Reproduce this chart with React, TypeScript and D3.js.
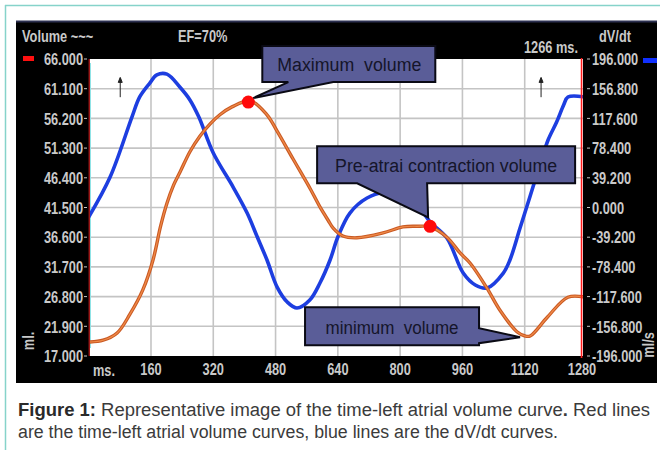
import React from "react";
import * as d3 from "d3";

// dV/dt curve (blue, right axis)
const dvTime = [0, 55, 111, 131, 157, 175, 201, 234, 260, 283, 320, 371, 407, 432, 458, 484, 510, 535, 568, 594, 620, 640, 671, 715, 756, 818, 859, 877, 920, 962, 993, 1023, 1065, 1082, 1108, 1134, 1159, 1180, 1202, 1220, 1231, 1275];
const dvValues = [-12.5, 40.2, 119.4, 146, 164.3, 175, 176, 159, 142, 119.4, 71.9, 27, -7.3, -37.6, -69.3, -105, -124.7, -132.7, -122.1, -99.7, -69.3, -39, -7.3, 12.5, 19.1, 7.2, -7.3, -19.2, -40.3, -86.5, -102.3, -106.3, -86.5, -69.3, -27.1, 15.2, 56.1, 89.1, 112.8, 135.3, 145.8, 145.8];

// volume curve (orange, left axis)
const volTime = [0, 37, 73, 106, 139, 165, 185, 201, 218, 235, 260, 286, 312, 337, 368, 415, 458, 484, 525, 569, 594, 615, 628, 653, 689, 756, 807, 843, 877, 920, 954, 980, 1023, 1056, 1100, 1121, 1134, 1178, 1231, 1275];
const volume = [19.3, 19.6, 20.8, 23.9, 27.9, 32.8, 38.5, 42.2, 45.2, 47.4, 50.7, 53.3, 55.3, 56.8, 58.1, 59.1, 56.8, 54.1, 49.5, 44.6, 41.6, 39.4, 38.1, 36.8, 36.5, 37.3, 38.3, 38.4, 38.3, 36.6, 34, 32.3, 28.2, 24.6, 21, 20.3, 20.3, 23.4, 26.7, 26.7];

const volTicks = [17, 21.9, 26.8, 31.7, 36.6, 41.5, 46.4, 51.3, 56.2, 61.1, 66];
const dvTicks = [-196, -156.8, -117.6, -78.4, -39.2, 0, 39.2, 78.4, 117.6, 156.8, 196];
const timeTicks = [160, 320, 480, 640, 800, 960, 1120, 1280];

const cursorTime = 1266;
const arrowTimes = [81, 1162];

// annotated points: [time, volume]
const callouts = [
  { label: "Maximum  volume", at: [410, 58.9], dot: true,
    pts: [[14, -56], [187, -56], [187, -20], [85, -20], [5, -4], [40, -20], [14, -20]], text: [101, -37], len: 144 },
  { label: "Pre-atrai contraction volume", at: [877, 38.4], dot: true,
    pts: [[-113, -80], [145, -80], [145, -43], [-3, -43], [-2, -9], [-73, -43], [-113, -43]], text: [16, -60], len: 222 },
  { label: "minimum  volume", at: [1108, 20.1], dot: false,
    pts: [[-215, -30], [-41, -30], [-41, -9], [0, 0], [-41, 6], [-41, 8], [-215, 8]], text: [-128, -9], len: 133 },
];

const W = 660;
const H = 450;
const plot = { left: 90, right: 583, top: 59, bottom: 356 };

const labelGray = "#c9c9c9";

// condensed bold label, like the monitor font
const NText = ({ x, y, rot = 0, anchor = "start", children }: any) => (
  <text
    transform={`translate(${x},${y}) rotate(${rot}) scale(0.8,1)`}
    textAnchor={anchor}
    dominantBaseline="middle"
  >
    {children}
  </text>
);

export default function App() {
  const x = d3.scaleLinear().domain([0, 1280]).range([88.7, 587]);
  const yL = d3.scaleLinear().domain([17, 66]).range([plot.bottom, plot.top]);
  const yR = d3.scaleLinear().domain([-196, 196]).range([plot.bottom, plot.top]);

  const blueLine = d3
    .line<number>()
    .x((d, i) => x(dvTime[i]))
    .y((d) => yR(d))
    .curve(d3.curveCatmullRom.alpha(0.5));
  const volLine = d3
    .line<number>()
    .x((d, i) => x(volTime[i]))
    .y((d) => yL(d))
    .curve(d3.curveCatmullRom.alpha(0.5));

  return (
    <svg width={W} height={H} style={{ position: "absolute", left: 0, top: 0, background: "#fff" }}>
      <defs>
        <clipPath id="plotclip">
          <rect x={plot.left} y={plot.top} width={plot.right - plot.left} height={plot.bottom - plot.top} />
        </clipPath>
      </defs>

      {/* teal frame */}
      <line x1={5} x2={660} y1={5.5} y2={5.5} stroke="#86d3ca" strokeWidth={1.5} />
      <line x1={5.5} x2={5.5} y1={5} y2={450} stroke="#86d3ca" strokeWidth={1.5} />

      {/* black monitor panel */}
      <rect x={16} y={21} width={641} height={362} fill="#000" />
      <line x1={16} x2={657} y1={21.5} y2={21.5} stroke="#2c3050" strokeWidth={2} />
      <rect x={plot.left} y={plot.top} width={plot.right - plot.left} height={plot.bottom - plot.top} fill="#fff" />

      {/* grid */}
      <g stroke="#c4c4c4" strokeWidth={1.6}>
        {volTicks.slice(1, -1).map((t) => (
          <line key={t} x1={plot.left} x2={plot.right} y1={yL(t)} y2={yL(t)} />
        ))}
        {timeTicks.slice(0, -1).map((t) => (
          <line key={t} x1={x(t)} x2={x(t)} y1={plot.top} y2={plot.bottom} />
        ))}
      </g>
      <line x1={89.2} x2={89.2} y1={plot.top} y2={plot.bottom} stroke="#e02020" strokeWidth={1} />
      <line x1={90.5} x2={90.5} y1={plot.top + 4} y2={plot.bottom - 8} stroke="#8fe3e6" strokeWidth={1} />

      {/* tick labels */}
      <g fontFamily="'Liberation Sans', Arial, sans-serif" fontWeight="bold" fontSize={16} fill={labelGray}>
        {volTicks.map((t) => (
          <g key={t}>
            <line x1={84} x2={87} y1={yL(t)} y2={yL(t)} stroke={labelGray} strokeWidth={1} />
            <NText x={83} y={yL(t) + 2} anchor="end">{t.toFixed(3)}</NText>
          </g>
        ))}
        {dvTicks.map((t) => (
          <g key={t}>
            <line x1={587} x2={590} y1={yR(t)} y2={yR(t)} stroke={labelGray} strokeWidth={1} />
            <NText x={592} y={yR(t) + 2}>{t.toFixed(3)}</NText>
          </g>
        ))}
        {timeTicks.map((t) => (
          <NText key={t} x={x(t) - (t === 1280 ? 5 : 0)} y={371} anchor="middle">{t}</NText>
        ))}
        <NText x={93} y={372}>ms.</NText>
        <NText x={22} y={38}>Volume ~~~</NText>
        <NText x={178} y={38}>EF=70%</NText>
        <NText x={524} y={49}>1266 ms.</NText>
        <NText x={615} y={38} anchor="middle">dV/dt</NText>
        <NText x={30} y={341} rot={-90} anchor="middle">ml.</NText>
        <NText x={650} y={345} rot={-90} anchor="middle">ml/s</NText>
      </g>
      <rect x={23} y={56} width={11} height={5} fill="#ff1010" />
      <rect x={643} y={58} width={14} height={5} fill="#1030ff" />

      {/* curves */}
      <g clipPath="url(#plotclip)" fill="none">
        <path d={blueLine(dvValues) || ""} stroke="#1d3ee0" strokeWidth={3.6} strokeLinejoin="round" />
        <path d={volLine(volume) || ""} stroke="#c95a24" strokeWidth={3.4} strokeLinejoin="round" />
        <path d={volLine(volume) || ""} stroke="#f08a48" strokeWidth={1.2} strokeLinejoin="round" />
      </g>

      {/* cursor and markers */}
      <line x1={x(cursorTime)} x2={x(cursorTime)} y1={58} y2={358} stroke="#ff1a1a" strokeWidth={1.6} />
      {arrowTimes.map((t) => (
        <g key={t} stroke="#222" strokeWidth={1} fill="#222">
          <line x1={x(t)} x2={x(t)} y1={yL(62.8)} y2={yL(59.7)} />
          <path d={`M${x(t) - 2},${yL(62.8) + 4} L${x(t)},${yL(62.8) - 1} L${x(t) + 2},${yL(62.8) + 4} Z`} />
        </g>
      ))}

      {/* callouts */}
      {callouts.map((c) => {
        const ax = x(c.at[0]);
        const ay = yL(c.at[1]);
        const d = "M" + c.pts.map((p) => `${ax + p[0]},${ay + p[1]}`).join(" L") + " Z";
        return (
          <g key={c.label}>
            {c.dot && <circle cx={ax} cy={ay} r={6.5} fill="#ff0a0a" />}
            <path d={d} fill="#5a5d98" stroke="#0a0a14" strokeWidth={2} strokeLinejoin="miter" />
            <text
              x={ax + c.text[0]}
              y={ay + c.text[1]}
              textAnchor="middle"
              dominantBaseline="central"
              fontFamily="'Liberation Sans', Arial, sans-serif"
              fontSize={18}
              fill="#15152a"
              textLength={c.len}
              lengthAdjust="spacingAndGlyphs"
              style={{ whiteSpace: "pre" }}
            >
              {c.label}
            </text>
          </g>
        );
      })}

      {/* caption */}
      <g fontFamily="'Liberation Sans', Arial, sans-serif" fontSize={18} fill="#3b3b3b">
        <text x={18} y={416} textLength={632} lengthAdjust="spacingAndGlyphs">
          <tspan fontWeight="bold" fill="#2a2a2a">Figure 1:</tspan> Representative image of the time-left atrial volume curve<tspan fontWeight="bold">.</tspan> Red lines
        </text>
        <text x={18} y={438} textLength={540} lengthAdjust="spacingAndGlyphs">are the time-left atrial volume curves, blue lines are the dV/dt curves.</text>
      </g>
    </svg>
  );
}
